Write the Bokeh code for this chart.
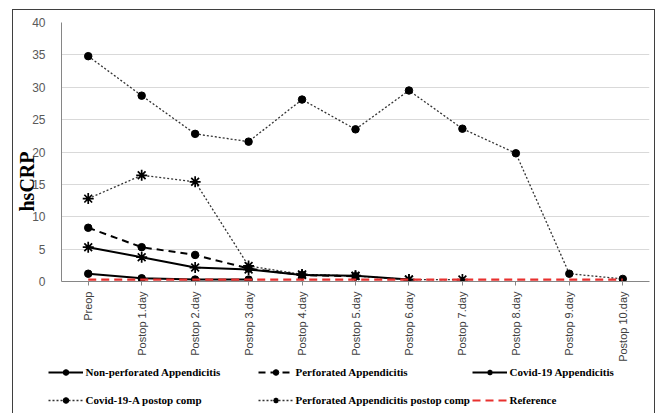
import math

from bokeh.embed import file_html
from bokeh.layouts import column
from bokeh.models import FactorRange, FixedTicker, Legend, LegendItem, Title
from bokeh.plotting import figure
from bokeh.resources import INLINE

# Measurement days on the x axis
categories = [
    "Preop", "Postop 1.day", "Postop 2.day", "Postop 3.day", "Postop 4.day",
    "Postop 5.day", "Postop 6.day", "Postop 7.day", "Postop 8.day",
    "Postop 9.day", "Postop 10.day",
]

# hsCRP values per group (each series starts at Preop)
non_perforated = [1.2, 0.5, 0.3, 0.3]
perforated = [8.3, 5.3, 4.1, 2.0, 1.0, 0.8]
covid19_appendicitis = [5.3, 3.75, 2.15, 1.85, 1.0, 0.9, 0.3]
covid19_postop_comp = [34.8, 28.7, 22.8, 21.6, 28.1, 23.5, 29.5, 23.6, 19.8, 1.2, 0.4]
perforated_postop_comp = [12.8, 16.4, 15.4, 2.4, 1.1, 0.85, 0.3, 0.3]
reference = [0.3, 0.3, 0.3, 0.3, 0.3, 0.3, 0.3, 0.3, 0.3, 0.3, 0.3]

y_ticks = [0, 5, 10, 15, 20, 25, 30, 35, 40]

W = 640

p = figure(
    width=W, height=354,
    x_range=FactorRange(*categories), y_range=(0, 40),
    output_backend="svg", toolbar_location=None,
    min_border_left=48, min_border_right=4, min_border_top=12, min_border_bottom=82,
)
p.frame_align = False
p.outline_line_color = None
p.background_fill_color = "white"
p.border_fill_color = "white"

# grid
p.xgrid.grid_line_color = None
p.ygrid.grid_line_color = "#d9d9d9"
p.ygrid.grid_line_width = 1

# y axis
p.yaxis.ticker = FixedTicker(ticks=y_ticks)
p.yaxis.axis_line_color = "#868686"
p.yaxis.major_tick_line_color = None
p.yaxis.minor_tick_line_color = None
p.yaxis.major_label_standoff = 10
p.yaxis.major_label_text_font = "Liberation Sans"
p.yaxis.major_label_text_font_size = "12px"
p.yaxis.major_label_text_color = "#595959"

# x axis
p.xaxis.axis_line_color = "#868686"
p.xaxis.major_tick_line_color = "#868686"
p.xaxis.major_tick_out = 4
p.xaxis.major_tick_in = 0
p.xaxis.major_label_standoff = 6
p.xaxis.major_label_orientation = math.pi / 2
p.xaxis.major_label_text_font = "Liberation Sans"
p.xaxis.major_label_text_font_size = "11px"
p.xaxis.major_label_text_color = "#404040"

# y axis title, placed lower than centre along the axis
p.add_layout(Title(
    text="hsCRP", align="left", offset=70, standoff=-17,
    text_font="Liberation Serif", text_font_style="bold", text_font_size="20px",
    text_color="black",
), "left")

DOT = "2 2"
STYLES = {
    "cpc": dict(line_dash=DOT, marker="circle", line_color="#333333", line_width=1.3),
    "ppc": dict(line_dash=DOT, marker="asterisk", line_color="#333333", line_width=1.3),
    "perf": dict(line_dash="7 5", marker="circle", line_color="black", line_width=2.0),
    "covid": dict(line_dash="solid", marker="asterisk", line_color="black", line_width=2.0),
    "nonperf": dict(line_dash="solid", marker="circle", line_color="black", line_width=2.0),
}


def series(fig, values, key):
    st = STYLES[key]
    xs = categories[:len(values)]
    ln = fig.line(xs, values, line_color=st["line_color"], line_width=st["line_width"],
                  line_dash=st["line_dash"])
    if st["marker"] == "circle":
        mk = fig.scatter(xs, values, marker="circle", size=7.5, fill_color="black", line_color="black")
    else:
        mk = fig.scatter(xs, values, marker="asterisk", size=11, line_color="black", line_width=1.7)
    return [ln, mk]


def ref_line(fig, values):
    return [fig.line(categories, values, line_color="#e8312f", line_width=2.2, line_dash="8 5")]


series(p, covid19_postop_comp, "cpc")
series(p, perforated_postop_comp, "ppc")
series(p, perforated, "perf")
series(p, covid19_appendicitis, "covid")
series(p, non_perforated, "nonperf")
ref_line(p, reference)

# Legend strip under the chart; its y range lies below all values, so only the legend shows
lg = figure(
    width=W, height=48, x_range=FactorRange(*categories), y_range=(-2, -1),
    output_backend="svg", toolbar_location=None,
    x_axis_location=None, y_axis_location=None, min_border=0,
)
lg.frame_align = False
lg.outline_line_color = None
lg.grid.visible = False
lg.background_fill_color = "white"
lg.border_fill_color = "white"

s_nonperf = series(lg, non_perforated, "nonperf")
s_cpc = series(lg, covid19_postop_comp, "cpc")
s_perf = series(lg, perforated, "perf")
s_ppc = series(lg, perforated_postop_comp, "ppc")
s_covid = series(lg, covid19_appendicitis, "covid")
s_ref = ref_line(lg, reference)


def make_legend(items, x):
    leg = Legend(
        items=items, location=(x, 5.5), orientation="vertical",
        glyph_width=35, glyph_height=14, label_height=14, label_standoff=3,
        spacing=14, padding=0, margin=0,
        border_line_color=None, background_fill_alpha=0,
        label_text_font="Liberation Serif", label_text_font_style="bold",
        label_text_font_size="11px", label_text_color="black",
    )
    lg.add_layout(leg)


make_legend([
    LegendItem(label="Non-perforated Appendicitis", renderers=s_nonperf),
    LegendItem(label="Covid-19-A postop comp", renderers=s_cpc),
], 34.5)
make_legend([
    LegendItem(label="Perforated Appendicitis", renderers=s_perf),
    LegendItem(label="Perforated Appendicitis postop comp", renderers=s_ppc),
], 244.5)
make_legend([
    LegendItem(label="Covid-19 Appendicitis", renderers=s_covid),
    LegendItem(label="Reference", renderers=s_ref),
], 458.5)

# Chart area frame around both parts (open at the bottom)
layout = column(
    p, lg, width=643, height=404, margin=(9, 0, 0, 12),
    styles={
        "border-left": "1.5px solid #3f3f3f",
        "border-top": "1.5px solid #3f3f3f",
        "border-right": "1.5px solid #3f3f3f",
        "background-color": "white",
    },
)

open("out.html", "w").write(file_html(layout, INLINE))
